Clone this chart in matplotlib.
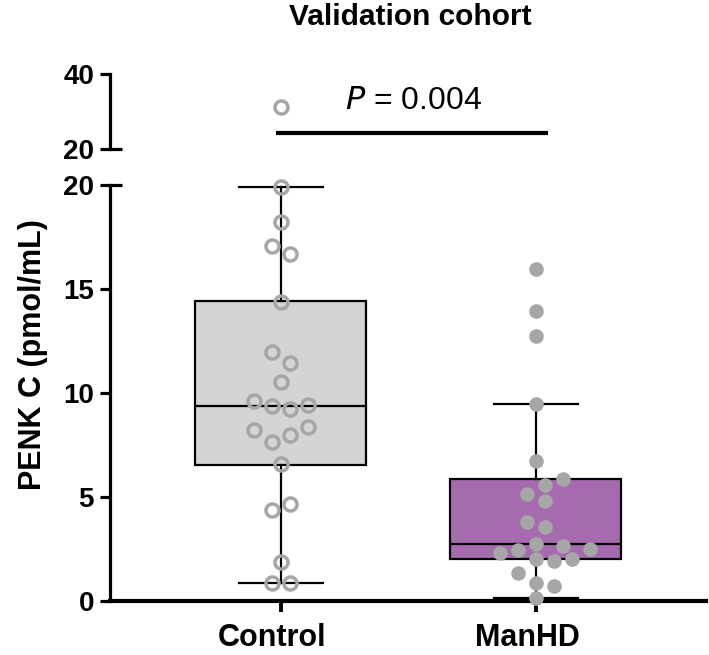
import numpy as np
import matplotlib
matplotlib.use("Agg")
import matplotlib.pyplot as plt
from matplotlib.transforms import ScaledTranslation

plt.rcParams['font.family'] = ['Liberation Sans', 'DejaVu Sans']

# ---------------- data ----------------
groups = ["Control", "ManHD"]
control_vals = [31.2, 19.9, 18.24, 17.07, 16.67, 14.37, 11.96, 11.43, 10.53,
                9.63, 9.39, 9.23, 9.42, 8.22, 7.66, 7.98, 8.35, 6.57,
                4.38, 4.65, 1.89, 0.85, 0.85]
manhd_vals = [15.96, 13.94, 12.76, 9.46, 6.75, 5.58, 5.85, 5.13, 4.82,
              3.81, 3.57, 2.74, 2.50, 2.29, 2.45, 2.64, 2.00, 1.94, 2.00,
              1.36, 0.88, 0.72, 0.13]
# box statistics as drawn
q1 = [6.54, 2.00]
median = [9.38, 2.74]
q3 = [14.40, 5.85]
whis_lo = [0.87, 0.13]
whis_hi = [19.90, 9.45]
box_colors = ["#d4d4d4", "#a66aae"]
p_text = "0.004"
sig_y = 24.3
yticks_low = [0, 5, 10, 15, 20]
yticks_high = [20, 40]

# ---------------- figure ----------------
W, H = 709, 655
fig = plt.figure(figsize=(W / 100, H / 100), dpi=100)
L, R = 110, 706
ax = fig.add_axes([L / W, (H - 601) / H, (R - L) / W, 416 / H])
axt = fig.add_axes([L / W, (H - 149) / H, (R - L) / W, 75 / H])

xlim = (-0.67, 1.667)
for a in (ax, axt):
    a.set_xlim(*xlim)
    a.spines['top'].set_visible(False)
    a.spines['right'].set_visible(False)
    a.spines['left'].set_linewidth(2.3)
    a.tick_params(axis='y', length=7.5, width=2.3, labelsize=20, pad=4)
ax.set_ylim(0, 20)
axt.set_ylim(20, 40)
ax.set_yticks(yticks_low)
axt.set_yticks(yticks_high)
ax.set_yticklabels([str(v) for v in yticks_low], fontweight='bold', fontsize=20)
axt.set_yticklabels([str(v) for v in yticks_high], fontweight='bold', fontsize=20)
axt.spines['bottom'].set_visible(False)
axt.set_xticks([])
ax.spines['bottom'].set_linewidth(3)
positions = [0, 1]
ax.set_xticks(positions)
ax.set_xticklabels(groups, fontweight='bold', fontsize=22)
ax.tick_params(axis='x', length=8, width=2.8, pad=8)
for lbl in ax.get_xticklabels():
    lbl.set_transform(lbl.get_transform() + ScaledTranslation(-0.09, 0, fig.dpi_scale_trans))

# break marks (inside extension at 20)
for a in (ax, axt):
    a.plot([0, 12 / (R - L)], [20, 20], color='black', lw=2.3,
           transform=a.get_yaxis_transform(), clip_on=False, solid_capstyle='butt')

# ---------------- boxes ----------------
stats = []
for i, g in enumerate(groups):
    stats.append(dict(label=g, q1=q1[i], med=median[i], q3=q3[i],
                      whislo=whis_lo[i], whishi=whis_hi[i], fliers=[]))
bp = ax.bxp(stats, positions=positions, widths=0.67, patch_artist=True,
            showfliers=False, manage_ticks=False,
            boxprops=dict(linewidth=1.6, edgecolor='black'),
            medianprops=dict(color='black', linewidth=1.6),
            whiskerprops=dict(color='black', linewidth=1.6),
            capprops=dict(color='black', linewidth=1.6),
            capwidths=0.33)
for patch, c in zip(bp['boxes'], box_colors):
    patch.set_facecolor(c)
for cap in bp['caps']:
    cap.set_clip_on(False)

# ---------------- swarm (rows centred, collision-aware) ----------------
PX_X = (R - L) / (xlim[1] - xlim[0])
PX_Y = 416 / 20.0


def swarm(vals, D=15.0, step=18.0, gap=11.5, span=15.0, max_row=5):
    vals = np.asarray(vals, float)
    ypx = np.where(vals <= 20, vals * PX_Y, 5000 + vals)
    order = sorted(range(len(vals)), key=lambda i: ypx[i])
    rows, cur = [], []
    for i in order:
        if cur and ((ypx[i] - ypx[cur[-1]]) > gap or (ypx[i] - ypx[cur[0]]) > span
                    or len(cur) >= max_row):
            rows.append(cur)
            cur = []
        cur.append(i)
    if cur:
        rows.append(cur)
    placed = []
    offs = np.zeros(len(vals))

    def ok(o, y):
        return all(np.hypot(o - po, y - py) >= D for po, py in placed)

    half = step / 2
    for row in rows:
        row = sorted(row)
        n = len(row)
        base = [(j - (n - 1) / 2) * step for j in range(n)]
        done = False
        for s in [0, half, -half, step, -step]:
            if all(ok(b + s, ypx[i]) for b, i in zip(base, row)):
                for b, i in zip(base, row):
                    offs[i] = b + s
                    placed.append((b + s, ypx[i]))
                done = True
                break
        if not done:
            cands = [0.0]
            for k in range(1, 12):
                cands += [k * half, -k * half]
            for i in row:
                for o in cands:
                    if ok(o, ypx[i]):
                        break
                offs[i] = o
                placed.append((o, ypx[i]))
    return offs / PX_X


point_color = "#a6a6a6"
for pos, vals, filled in [(0, control_vals, False), (1, manhd_vals, True)]:
    offs = swarm(vals)
    vals = np.asarray(vals)
    for a, mask in [(ax, vals <= 20), (axt, vals > 20)]:
        if not mask.any():
            continue
        if filled:
            a.plot(pos + offs[mask], vals[mask], 'o', ms=10.5, mfc=point_color,
                   mec='none', clip_on=False, zorder=5)
        else:
            a.plot(pos + offs[mask], vals[mask], 'o', ms=9.4, mfc='none',
                   mec=point_color, mew=2.5, clip_on=False, zorder=5)

# ---------------- significance ----------------
axt.plot([positions[0] - 0.02, positions[1] + 0.047], [sig_y, sig_y],
         color='black', lw=3, solid_capstyle='butt', clip_on=False)
axt.text((positions[0] + positions[1]) / 2 + 0.02, 30.7, r"$P$ = " + p_text,
         ha='center', va='baseline', fontsize=23)

# ---------------- labels ----------------
fig.text(410 / W, 1 - 25 / H, "Validation cohort", ha='center', va='baseline',
         fontsize=21.5, fontweight='bold')
fig.text(33 / W, 1 - 355 / H, "PENK C (pmol/mL)", rotation=90, ha='center',
         va='center', fontsize=22, fontweight='bold')

fig.savefig("out.png", dpi=100)
